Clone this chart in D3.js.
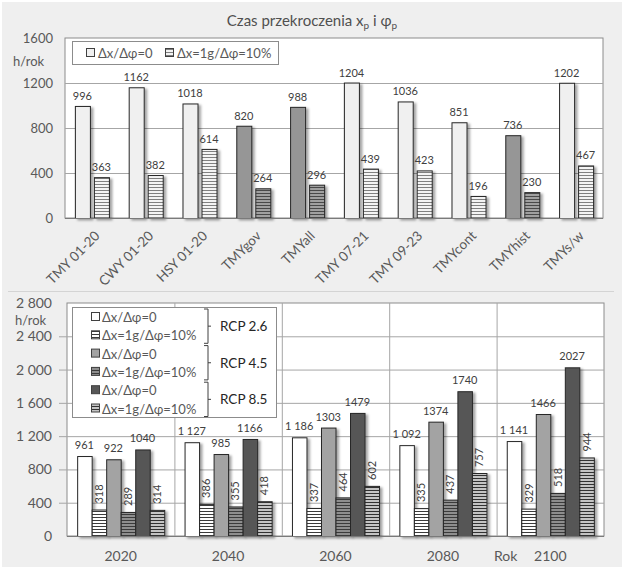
<!DOCTYPE html>
<html>
<head>
<meta charset="utf-8">
<script src="https://cdn.jsdelivr.net/npm/d3@7"></script>
<style>
  html, body { margin: 0; padding: 0; background: #ffffff; }
  svg { display: block; font-family: Lato, "Open Sans", sans-serif; }
</style>
</head>
<body>
<script>
// ---------- DATA ----------
const topCategories = ["TMY 01-20", "CWY 01-20", "HSY 01-20", "TMYgov", "TMYall", "TMY 07-21", "TMY 09-23", "TMYcont", "TMYhist", "TMYs/w"];
const topBase = [996, 1162, 1018, 820, 988, 1204, 1036, 851, 736, 1202];
const topTol = [363, 382, 614, 264, 296, 439, 423, 196, 230, 467];
const topHighlighted = ["TMYgov", "TMYall", "TMYhist"];
const topTicks = [0, 400, 800, 1200, 1600];
const topSeriesNames = ["Δx/Δφ=0", "Δx=1g/Δφ=10%"];

const years = ["2020", "2040", "2060", "2080", "2100"];
const rcp26Base = [961, 1127, 1186, 1092, 1141];
const rcp26Tol = [318, 386, 337, 335, 329];
const rcp45Base = [922, 985, 1303, 1374, 1466];
const rcp45Tol = [289, 355, 464, 437, 518];
const rcp85Base = [1040, 1166, 1479, 1740, 2027];
const rcp85Tol = [314, 418, 602, 757, 944];
const bottomTicks = [0, 400, 800, 1200, 1600, 2000, 2400, 2800];
const scenarios = ["RCP 2.6", "RCP 4.5", "RCP 8.5"];

const bottomSeries = [
  { key: "s0", name: topSeriesNames[0], rcp: scenarios[0], values: rcp26Base },
  { key: "s1", name: topSeriesNames[1], rcp: scenarios[0], values: rcp26Tol },
  { key: "s2", name: topSeriesNames[0], rcp: scenarios[1], values: rcp45Base },
  { key: "s3", name: topSeriesNames[1], rcp: scenarios[1], values: rcp45Tol },
  { key: "s4", name: topSeriesNames[0], rcp: scenarios[2], values: rcp85Base },
  { key: "s5", name: topSeriesNames[1], rcp: scenarios[2], values: rcp85Tol }
];

// ---------- STYLES ----------
const W = 624, H = 569;
const txt = "#595959", valTxt = "#404040", gridC = "#a6a6a6", borderC = "#8c8c8c", barStroke = "#262626";
const bottomFills = ["#ffffff", "url(#hWhite)", "#a3a3a3", "url(#hGray)", "#575757", "url(#hLight)"];

const svg = d3.select("body").append("svg").attr("width", W).attr("height", H);
const defs = svg.append("defs");

function hatch(id, bg, line) {
  const p = defs.append("pattern").attr("id", id).attr("patternUnits", "userSpaceOnUse")
    .attr("width", 4).attr("height", 3);
  p.append("rect").attr("width", 4).attr("height", 3).attr("fill", bg);
  p.append("rect").attr("width", 4).attr("height", 1).attr("y", 1).attr("fill", line);
}
hatch("hTopLight", "#f4f4f4", "#808080");
hatch("hTopDark", "#a0a0a0", "#4a4a4a");
hatch("hWhite", "#ffffff", "#3a3a3a");
hatch("hGray", "#8e8e8e", "#3a3a3a");
hatch("hLight", "#c4c4c4", "#333333");

const f = defs.append("filter").attr("id", "shadow").attr("x", "-30%").attr("y", "-10%").attr("width", "170%").attr("height", "130%");
f.append("feDropShadow").attr("dx", 2.5).attr("dy", 1.5).attr("stdDeviation", 1.2)
  .attr("flood-color", "#000").attr("flood-opacity", 0.35);

// background
svg.append("rect").attr("x", 2).attr("y", 2).attr("width", W - 4).attr("height", H - 4).attr("fill", "#efefef");
svg.append("line").attr("x1", 8).attr("x2", 614).attr("y1", 291.5).attr("y2", 291.5).attr("stroke", "#d4d4d4");

// ---------- TOP CHART ----------
const tL = 65, tR = 603, tT = 38, tB = 218;
const yTop = d3.scaleLinear().domain([0, 1600]).range([tB, tT]);
const x0Top = d3.scaleBand().domain(topCategories).range([tL, tR]);
const x1Top = d3.scaleBand().domain(["base", "tol"]).range([0, x0Top.bandwidth()]).paddingInner(0.21).paddingOuter(0.52);

// title
const title = svg.append("text").attr("x", 312).attr("y", 26).attr("text-anchor", "middle")
  .attr("font-size", 15).attr("fill", "#505050");
title.append("tspan").text("Czas przekroczenia x");
title.append("tspan").attr("dy", 3).attr("font-size", 10).text("p");
title.append("tspan").attr("dy", -3).text(" i φ");
title.append("tspan").attr("dy", 3).attr("font-size", 10).text("p");

svg.append("rect").attr("x", tL).attr("y", tT).attr("width", tR - tL).attr("height", tB - tT)
  .attr("fill", "#ffffff").attr("stroke", borderC);
svg.append("g").selectAll("line").data(topTicks.filter(t => t > 0 && t < 1600)).join("line")
  .attr("x1", tL).attr("x2", tR).attr("y1", d => yTop(d) + 0.5).attr("y2", d => yTop(d) + 0.5)
  .attr("stroke", gridC);
svg.append("g").selectAll("text").data(topTicks).join("text")
  .attr("x", 53).attr("y", d => yTop(d) + 5).attr("text-anchor", "end")
  .attr("font-size", 13).attr("fill", txt).text(d => d);
svg.append("text").attr("x", 13).attr("y", 66).attr("font-size", 13).attr("fill", txt).text("h/rok");

const topRows = topCategories.map((c, i) => ({ c, base: topBase[i], tol: topTol[i], hi: topHighlighted.includes(c) }));
const tg = svg.append("g");
topRows.forEach(r => {
  const xb = x0Top(r.c) + x1Top("base"), xt = x0Top(r.c) + x1Top("tol"), bw = x1Top.bandwidth();
  tg.append("rect").attr("x", xb + 0.5).attr("y", yTop(r.base) + 0.5).attr("width", bw).attr("height", yTop(0) - yTop(r.base))
    .attr("fill", r.hi ? "#969696" : "#f0f0f0").attr("stroke", barStroke).attr("filter", "url(#shadow)");
  tg.append("rect").attr("x", xt + 0.5).attr("y", yTop(r.tol) + 0.5).attr("width", bw).attr("height", yTop(0) - yTop(r.tol))
    .attr("fill", r.hi ? "url(#hTopDark)" : "url(#hTopLight)").attr("stroke", barStroke).attr("filter", "url(#shadow)");
  tg.append("text").attr("x", xb + bw / 2).attr("y", yTop(r.base) - 6).attr("text-anchor", "middle")
    .attr("font-size", 11).attr("fill", valTxt).text(r.base);
  tg.append("text").attr("x", xt + bw / 2).attr("y", yTop(r.tol) - 6).attr("text-anchor", "middle")
    .attr("font-size", 11).attr("fill", valTxt).text(r.tol);
});
svg.append("line").attr("x1", tL).attr("x2", tR).attr("y1", tB + 0.5).attr("y2", tB + 0.5).attr("stroke", "#7a7a7a");
svg.append("g").selectAll("text").data(topCategories).join("text")
  .attr("transform", d => `translate(${x0Top(d) + x0Top.bandwidth() / 2 + 2},${tB + 12}) rotate(-45)`)
  .attr("text-anchor", "end").attr("dy", "0.7em").attr("font-size", 13.5).attr("fill", txt).text(d => d);

// top legend
svg.append("rect").attr("x", 72.5).attr("y", 41.5).attr("width", 206).attr("height", 23)
  .attr("fill", "#fff").attr("stroke", borderC);
svg.append("rect").attr("x", 86.5).attr("y", 48.5).attr("width", 8).attr("height", 8).attr("fill", "#f0f0f0").attr("stroke", "#404040");
svg.append("text").attr("x", 98).attr("y", 57.5).attr("font-size", 13).attr("fill", txt).text(topSeriesNames[0]);
svg.append("rect").attr("x", 165.5).attr("y", 48.5).attr("width", 8).attr("height", 8).attr("fill", "url(#hTopLight)").attr("stroke", "#404040");
svg.append("text").attr("x", 177).attr("y", 57.5).attr("font-size", 13).attr("fill", txt).text(topSeriesNames[1]);

// ---------- BOTTOM CHART ----------
const bL = 67, bR = 604, bT = 303, bB = 536;
const yBot = d3.scaleLinear().domain([0, 2800]).range([bB, bT]);
const x0Bot = d3.scaleBand().domain(years).range([bL, bR]);
const x1Bot = d3.scaleBand().domain(bottomSeries.map(s => s.key)).range([0, x0Bot.bandwidth()]).paddingInner(0).paddingOuter(0.7);
const spaceFmt = d3.formatLocale({ decimal: ",", thousands: " ", grouping: [3], currency: ["", ""] }).format(",d");

svg.append("rect").attr("x", bL).attr("y", bT).attr("width", bR - bL).attr("height", bB - bT)
  .attr("fill", "#ffffff").attr("stroke", borderC);
svg.append("g").selectAll("line").data(bottomTicks.filter(t => t > 0 && t < 2800)).join("line")
  .attr("x1", bL - 8).attr("x2", bR).attr("y1", d => yBot(d) + 0.5).attr("y2", d => yBot(d) + 0.5)
  .attr("stroke", gridC);
svg.append("g").selectAll("line").data(years.slice(1)).join("line")
  .attr("x1", d => x0Bot(d) + 0.5).attr("x2", d => x0Bot(d) + 0.5).attr("y1", bT).attr("y2", bB)
  .attr("stroke", gridC);
svg.append("g").selectAll("text").data(bottomTicks).join("text")
  .attr("x", 52).attr("y", d => yBot(d) + 5).attr("text-anchor", "end")
  .attr("font-size", 14).attr("fill", txt).text(d => spaceFmt(d));
svg.append("text").attr("x", 15).attr("y", 325).attr("font-size", 13).attr("fill", txt).text("h/rok");

const bg = svg.append("g");
bottomSeries.forEach((s, si) => {
  s.values.forEach((v, yi) => {
    const x = x0Bot(years[yi]) + x1Bot(s.key), bw = x1Bot.bandwidth();
    bg.append("rect").attr("x", x + 0.5).attr("y", yBot(v) + 0.5).attr("width", bw).attr("height", yBot(0) - yBot(v))
      .attr("fill", bottomFills[si]).attr("stroke", barStroke).attr("filter", "url(#shadow)");
  });
});
bottomSeries.forEach((s, si) => {
  s.values.forEach((v, yi) => {
    const cx = x0Bot(years[yi]) + x1Bot(s.key) + x1Bot.bandwidth() / 2;
    if (si % 2 === 0) {
      bg.append("text").attr("x", cx).attr("y", yBot(v) - 7).attr("text-anchor", "middle")
        .attr("font-size", 11).attr("fill", valTxt).text(si === 0 ? spaceFmt(v) : v);
    } else {
      bg.append("text").attr("transform", `translate(${cx + 4},${yBot(v) - 6}) rotate(-90)`)
        .attr("font-size", 11).attr("fill", valTxt).text(v);
    }
  });
});
svg.append("line").attr("x1", bL).attr("x2", bR).attr("y1", bB + 0.5).attr("y2", bB + 0.5).attr("stroke", "#7a7a7a");
svg.append("g").selectAll("text").data(years).join("text")
  .attr("x", d => x0Bot(d) + x0Bot.bandwidth() / 2).attr("y", 561).attr("text-anchor", "middle")
  .attr("font-size", 14).attr("fill", txt).text(d => d);
svg.append("text").attr("x", 494).attr("y", 561).attr("font-size", 14).attr("fill", txt).text("Rok");

// bottom legend
svg.append("rect").attr("x", 72.5).attr("y", 307.5).attr("width", 204).attr("height", 110)
  .attr("fill", "#fff").attr("stroke", borderC);
const rowY = i => 317 + i * 18.3;
bottomSeries.forEach((s, i) => {
  svg.append("rect").attr("x", 91.5).attr("y", rowY(i) - 4.5).attr("width", 8).attr("height", 8)
    .attr("fill", bottomFills[i]).attr("stroke", "#404040");
  svg.append("text").attr("x", 102).attr("y", rowY(i) + 5).attr("font-size", 13).attr("fill", txt).text(s.name);
});
scenarios.forEach((sc, k) => {
  const y1 = rowY(2 * k) - 8, y2 = rowY(2 * k + 1) + 8, ym = (y1 + y2) / 2;
  svg.append("path").attr("d", `M204,${y1} L208,${y1} L208,${y2} L204,${y2} M208,${ym} L211,${ym}`)
    .attr("fill", "none").attr("stroke", "#404040").attr("stroke-width", 1);
  svg.append("text").attr("x", 220).attr("y", ym + 5).attr("font-size", 13.5).attr("fill", "#262626").text(sc);
});
</script>
</body>
</html>
